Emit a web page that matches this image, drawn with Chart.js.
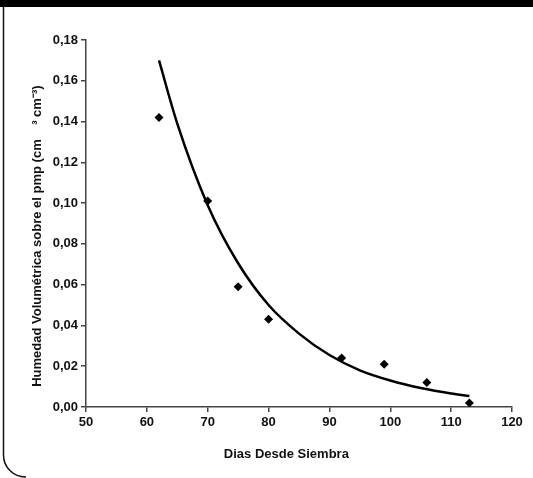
<!DOCTYPE html>
<html>
<head>
<meta charset="utf-8">
<script src="https://cdn.jsdelivr.net/npm/chart.js@4/dist/chart.umd.min.js"></script>
<style>
  html, body { margin: 0; padding: 0; background: #fff; }
  #wrap { width: 533px; height: 478px; position: relative; }
</style>
</head>
<body>
<div id="wrap"><canvas id="chart"></canvas></div>
<script>
// puntos medidos
const dias = [62, 70, 75, 80, 92, 99, 106, 113];
const humedad = [0.142, 0.101, 0.059, 0.043, 0.024, 0.021, 0.012, 0.002];

// linea de tendencia
const curvaDias = [62, 65, 70, 75, 80, 85, 90, 95, 100, 105, 110, 113];
const curvaHumedad = [0.170, 0.139, 0.099, 0.0705, 0.050, 0.036, 0.0255, 0.018, 0.013, 0.0093, 0.0066, 0.0054];

const xTicks = [50, 60, 70, 80, 90, 100, 110, 120];
const yTicks = [0, 0.02, 0.04, 0.06, 0.08, 0.10, 0.12, 0.14, 0.16, 0.18];

// marco de la figura
const framePlugin = {
  id: 'frame',
  beforeDraw(chart) {
    const ctx = chart.ctx;
    ctx.save();
    ctx.fillStyle = '#fff';
    ctx.fillRect(0, 0, chart.width, chart.height);
    ctx.fillStyle = '#000';
    ctx.fillRect(0, 0, chart.width, 7);
    ctx.strokeStyle = '#111';
    ctx.lineWidth = 1.5;
    ctx.beginPath();
    ctx.moveTo(3.5, 7);
    ctx.lineTo(3.5, 455);
    ctx.arcTo(3.5, 477, 25, 477, 22);
    ctx.lineTo(26, 477);
    ctx.stroke();
    ctx.restore();
  }
};

const font = { family: 'Liberation Sans', size: 13, weight: 'bold' };

new Chart(document.getElementById('chart'), {
  type: 'scatter',
  data: {
    datasets: [{
      label: 'tendencia',
      data: curvaDias.map((d, i) => ({ x: d, y: curvaHumedad[i] })),
      showLine: true,
      borderColor: '#000',
      borderWidth: 2.5,
      pointRadius: 0,
      tension: 0.4,
      cubicInterpolationMode: 'monotone'
    }, {
      label: 'datos',
      data: dias.map((d, i) => ({ x: d, y: humedad[i] })),
      pointStyle: 'rectRot',
      pointRadius: 4.5,
      backgroundColor: '#000',
      borderColor: '#000',
      borderWidth: 0
    }]
  },
  options: {
    responsive: true,
    maintainAspectRatio: false,
    animation: false,
    layout: { padding: { left: 0, top: 40, right: 21, bottom: 0 } },
    plugins: { legend: { display: false }, tooltip: { enabled: false } },
    scales: {
      x: {
        type: 'linear',
        min: 50,
        max: 120,
        afterBuildTicks: s => { s.ticks = xTicks.map(v => ({ value: v })); },
        afterFit: s => { s.height = 71; },
        ticks: { color: '#111', font: font, padding: 3, maxRotation: 0 },
        grid: { drawOnChartArea: false, drawTicks: true, tickLength: 5, color: '#444', lineWidth: 1.5 },
        border: { display: true, color: '#444', width: 1.5 },
        title: {
          display: true,
          text: 'Dias Desde Siembra       ',
          color: '#111',
          font: font,
          padding: { top: 0, bottom: 16 }
        }
      },
      y: {
        type: 'linear',
        min: 0,
        max: 0.18,
        afterBuildTicks: s => { s.ticks = yTicks.map(v => ({ value: v })); },
        afterFit: s => { s.width = 86; },
        ticks: {
          color: '#111',
          font: font,
          padding: 3,
          callback: v => v.toFixed(2).replace('.', ',')
        },
        grid: { drawOnChartArea: false, drawTicks: true, tickLength: 5, color: '#444', lineWidth: 1.5 },
        border: { display: true, color: '#444', width: 1.5 },
        title: {
          display: true,
          text: 'Humedad Volumétrica sobre el pmp (cm    ³ cm⁻³)       ',
          color: '#111',
          font: font,
          padding: { top: 30, bottom: 0 }
        }
      }
    }
  },
  plugins: [framePlugin]
});
</script>
</body>
</html>
